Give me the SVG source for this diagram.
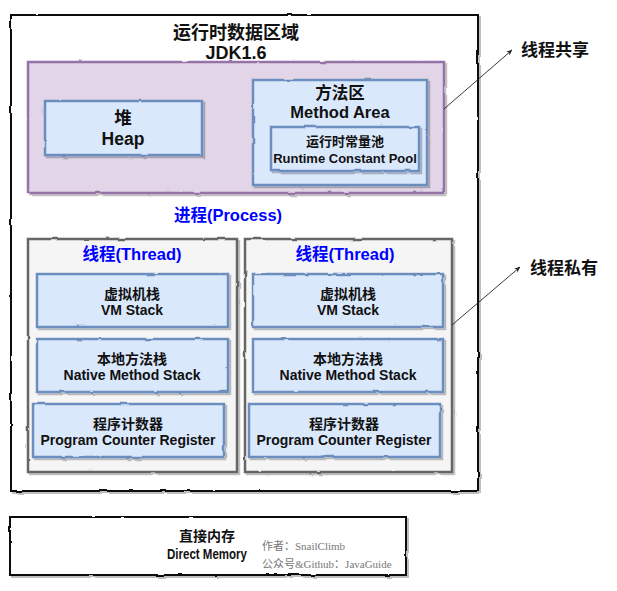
<svg xmlns="http://www.w3.org/2000/svg" width="617" height="591" viewBox="0 0 617 591">
<defs>
<filter id="sh" x="-5%" y="-5%" width="115%" height="115%">
<feTurbulence type="fractalNoise" baseFrequency="0.06" numOctaves="2" seed="3" result="n"/>
<feDisplacementMap in="SourceGraphic" in2="n" scale="2.2" xChannelSelector="R" yChannelSelector="G" result="d"/>
<feGaussianBlur in="d" stdDeviation="0.7" result="bl"/>
<feOffset in="bl" dx="2" dy="2" result="o"/>
<feColorMatrix in="o" type="matrix" values="0 0 0 0 0  0 0 0 0 0  0 0 0 0 0  0 0 0 0.25 0" result="s"/>
<feMerge><feMergeNode in="s"/><feMergeNode in="d"/></feMerge>
</filter>
<marker id="ah" viewBox="0 0 10 10" refX="9" refY="5" markerWidth="7" markerHeight="7" orient="auto">
<path d="M0,1 L10,5 L0,9 L3,5 Z" fill="#222"/>
</marker>
</defs>
<style>
text{font-family:"Liberation Sans","Noto Sans CJK SC",sans-serif;text-anchor:middle;fill:#111}
.b{font-weight:bold}
.outer{fill:#fff;stroke:#111;stroke-width:2}
.purple{fill:#e1d5e7;stroke:#9673a6;stroke-width:2.5}
.blue{fill:#dae8fc;stroke:#6c8ebf;stroke-width:2.5}
.gray{fill:#f5f5f5;stroke:#666;stroke-width:2.5}
.lbl{font-size:14px;font-weight:bold}
.hd{font-size:16.5px;font-weight:bold;fill:#0000ff}
.note{font-family:"Liberation Serif","Noto Sans CJK SC",serif;font-size:11px;fill:#777;text-anchor:start}
.side{font-size:17px;font-weight:bold;text-anchor:start}
</style>
<rect width="617" height="591" fill="#fff"/>

<g id="runtime-data-area">
<rect class="outer" x="11" y="15" width="467" height="476" filter="url(#sh)"/>
<text class="b" x="236" y="39" font-size="18">运行时数据区域</text>
<text class="b" x="236" y="59" font-size="18">JDK1.6</text>
</g>

<g id="shared-area">
<rect class="purple" x="28" y="62" width="416" height="131" filter="url(#sh)"/>
</g>

<g id="heap">
<rect class="blue" x="45" y="101" width="157" height="54" filter="url(#sh)"/>
<text class="b" x="123" y="124" font-size="17.5">堆</text>
<text class="b" x="123" y="145" font-size="17.5">Heap</text>
</g>

<g id="method-area">
<rect class="blue" x="253" y="80" width="174" height="105" filter="url(#sh)"/>
<text class="b" x="340" y="99" font-size="16.5">方法区</text>
<text class="b" x="340" y="118" font-size="16.5">Method Area</text>
</g>

<g id="runtime-constant-pool">
<rect class="blue" x="271" y="127" width="148" height="44" filter="url(#sh)"/>
<text x="345" y="146" font-size="13" font-weight="bold">运行时常量池</text>
<text x="345" y="163" font-size="13" font-weight="bold">Runtime Constant Pool</text>
</g>

<g id="process-label">
<text class="hd" x="228" y="221">进程(Process)</text>
</g>

<g id="thread-1">
<rect class="gray" x="28" y="239" width="209" height="233" filter="url(#sh)"/>
<text class="hd" x="132" y="260">线程(Thread)</text>
</g>
<g id="vm-stack-1">
<rect class="blue" x="37" y="274" width="191" height="53" filter="url(#sh)"/>
<text class="lbl" x="132" y="299">虚拟机栈</text>
<text class="lbl" x="132" y="315">VM Stack</text>
</g>
<g id="native-stack-1">
<rect class="blue" x="37" y="339" width="191" height="53" filter="url(#sh)"/>
<text class="lbl" x="132" y="364">本地方法栈</text>
<text class="lbl" x="132" y="380">Native Method Stack</text>
</g>
<g id="pc-register-1">
<rect class="blue" x="33" y="404" width="191" height="53" filter="url(#sh)"/>
<text class="lbl" x="128" y="429">程序计数器</text>
<text class="lbl" x="128" y="445">Program Counter Register</text>
</g>

<g id="thread-2">
<rect class="gray" x="245" y="239" width="207" height="233" filter="url(#sh)"/>
<text class="hd" x="345" y="260">线程(Thread)</text>
</g>
<g id="vm-stack-2">
<rect class="blue" x="253" y="274" width="190" height="53" filter="url(#sh)"/>
<text class="lbl" x="348" y="299">虚拟机栈</text>
<text class="lbl" x="348" y="315">VM Stack</text>
</g>
<g id="native-stack-2">
<rect class="blue" x="253" y="339" width="190" height="53" filter="url(#sh)"/>
<text class="lbl" x="348" y="364">本地方法栈</text>
<text class="lbl" x="348" y="380">Native Method Stack</text>
</g>
<g id="pc-register-2">
<rect class="blue" x="249" y="404" width="191" height="53" filter="url(#sh)"/>
<text class="lbl" x="344" y="429">程序计数器</text>
<text class="lbl" x="344" y="445">Program Counter Register</text>
</g>

<g id="direct-memory">
<rect class="outer" x="10" y="517" width="396" height="58" filter="url(#sh)"/>
<text x="207" y="541" font-size="14" font-weight="bold">直接内存</text>
<text x="207" y="559" font-size="14" font-weight="bold" textLength="80" lengthAdjust="spacingAndGlyphs">Direct Memory</text>
<text class="note" x="262" y="550">作者：SnailClimb</text>
<text class="note" x="262" y="568">公众号&amp;Github：JavaGuide</text>
</g>

<g id="connectors" fill="none" stroke="#222" stroke-width="0.9">
<line x1="444" y1="109" x2="512" y2="50" marker-end="url(#ah)"/>
<line x1="452" y1="325" x2="520" y2="267" marker-end="url(#ah)"/>
</g>

<g id="shared-label">
<text class="side" x="521" y="56">线程共享</text>
</g>
<g id="private-label">
<text class="side" x="530" y="274">线程私有</text>
</g>
</svg>
